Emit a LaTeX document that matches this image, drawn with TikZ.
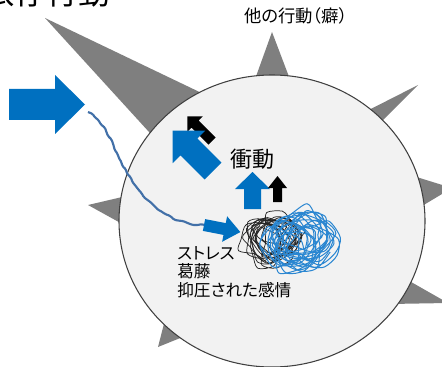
\documentclass[tikz,border=0pt]{standalone}
\usepackage{fontspec}
\setmainfont{Noto Sans CJK JP}[RawFeature=+palt]
\usepackage{tikz}
\usetikzlibrary{decorations.pathmorphing}
\usetikzlibrary{arrows,positioning}

\definecolor{spikegray}{HTML}{7F7F7F}
\definecolor{ballfill}{HTML}{F2F2F2}
\definecolor{pushblue}{HTML}{0070C0}
\definecolor{pathblue}{HTML}{4270A8}
\definecolor{knotblue}{HTML}{2A86D1}

%% #1 style, #2 tail, #3 angle, #4 length, #5 half shaft, #6 half head, #7 head length
\newcommand{\blockarrow}[7]{%
  \fill[#1,shift={#2},rotate=#3] (0,-#5) -- ({#4-#7},-#5) -- ({#4-#7},-#6) -- (#4,0)
    -- ({#4-#7},#6) -- ({#4-#7},#5) -- (0,#5) -- cycle;}

\begin{document}
\begin{tikzpicture}[x=0.75pt,y=-0.75pt]%
  \tikzstyle{spike}=[fill=spikegray] %%
  \tikzstyle{ball}=[fill=ballfill,draw=black!75,line width=0.8pt] %%
  \tikzstyle{wander}=[draw=pathblue,line width=1.6pt,decorate,
    decoration={random steps,segment length=3.5pt,amplitude=0.8pt},rounded corners=1pt] %%
  \tikzstyle{knotk}=[draw=black!85,line width=0.55pt] %%
  \tikzstyle{knotb}=[draw=knotblue,line width=0.75pt] %%
  \tikzstyle{tag}=[inner sep=0pt,font=\fontsize{12.5}{13.9}\selectfont] %%
  \clip (0,0) rectangle (442,367);
  %% spikes (behind the ball)
  \fill[spike] (45,18) -- (235,109) -- (170,155) -- cycle; %%
  \fill[spike] (272,32) -- (291,82) -- (254,82) -- cycle; %%
  \fill[spike] (418,85) -- (372,131) -- (355,117) -- cycle; %%
  \fill[spike] (452,188) -- (412,212) -- (410,175) -- cycle; %%
  \fill[spike] (448,303) -- (390,304) -- (383,266) -- cycle; %%
  \fill[spike] (88,205) -- (135,194) -- (135,231) -- cycle; %%
  \fill[spike] (158,347) -- (167,312) -- (200,330) -- cycle; %%
  %% the ball
  \filldraw[ball] (272,221) ellipse [x radius=153,y radius=146]; %%
  %% wandering path into the knot
  \coordinate (start) at (88,112); %%
  \coordinate (end) at (204,225); %%
  \pgfmathsetseed{5}
  \draw[wander] (start) .. controls (120,125) and (120,220) .. (end); %%
  %% block arrows
  \blockarrow{pushblue}{(9,104.5)}{0}{76}{15.5}{29.5}{30} %%
  \blockarrow{pushblue}{(204,225)}{-11}{37}{6}{13}{16} %%
  \blockarrow{black}{(212,141)}{135}{35}{5}{11}{11} %%
  \blockarrow{pushblue}{(213,171)}{135}{57}{12}{23}{23} %%
  \blockarrow{pushblue}{(252.5,209)}{90}{37}{8.5}{17.5}{17} %%
  \blockarrow{black}{(277.5,202)}{90}{26}{4.5}{9.5}{12} %%
  %% the knot: long scribbles going round and round
  \pgfmathsetseed{11}
  \foreach \cx/\cy in {268/238,272/242,275/236}{%
    \draw[knotk] plot[smooth,samples=44,domain=0:1800]
      ({\cx+7*sin(\x/6)+(20+7*rand)*cos(\x)},{\cy+5*cos(\x/5)+(19+7*rand)*sin(\x)});
  }
  \foreach \cx/\cy in {298/242,306/246,300/236,292/244}{%
    \draw[knotb] plot[smooth,samples=44,domain=0:1800]
      ({\cx+10*sin(\x/6)+(24+7*rand)*cos(\x)},{\cy+6*cos(\x/5)+(22+7*rand)*sin(\x)});
  }
  %% texts
  \node[tag,font=\fontsize{24}{28}\selectfont,anchor=base east] (habit) at (111,5) {依存行動}; %%
  \node[tag,font=\fontsize{13}{15}\selectfont] (other) at (296,16) {他の行動（癖）}; %%
  \node[tag,font=\fontsize{16.5}{18}\selectfont] (impulse) at (252,159) {衝動}; %%
  \node[tag,anchor=north west,align=left] (stress) at (177,246) {ストレス\\葛藤\\抑圧された感情}; %%
\end{tikzpicture}
\end{document}
